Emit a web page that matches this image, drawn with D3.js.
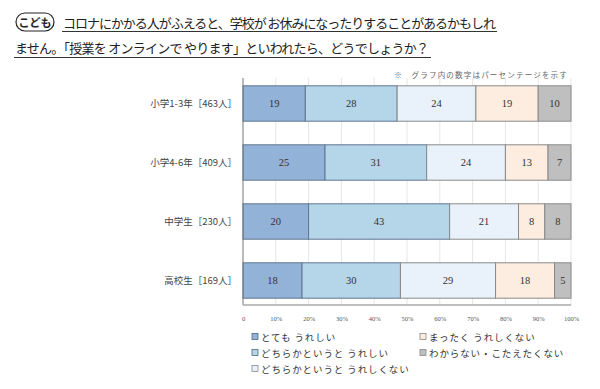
<!DOCTYPE html>
<html>
<head>
<meta charset="utf-8">
<script src="https://cdn.jsdelivr.net/npm/d3@7"></script>
<style>
  body { margin: 0; background: #fff; }
  svg { display: block; font-family: "Noto Sans CJK JP", sans-serif; }
</style>
</head>
<body>
<div id="chart"></div>
<script>
// categories and answers
var groups = ["小学1-3年［463人］", "小学4-6年［409人］", "中学生［230人］", "高校生［169人］"];
var answers = ["とても うれしい", "どちらかというと うれしい", "どちらかというと うれしくない", "まったく うれしくない", "わからない・こたえたくない"];
// percent values per answer (same order as groups)
var veryHappy = [19, 25, 20, 18];
var ratherHappy = [28, 31, 43, 30];
var ratherUnhappy = [24, 24, 21, 29];
var notHappy = [19, 13, 8, 18];
var dontKnow = [10, 7, 8, 5];
var ticks = [0, 10, 20, 30, 40, 50, 60, 70, 80, 90, 100];

var colors = ["#93b2d7", "#b5d5e8", "#e9f2fa", "#fdede1", "#bfbfbf"];

var W = 600, H = 389;
var svg = d3.select("#chart").append("svg")
    .attr("width", W)
    .attr("height", H);

//----------------------------title-------------------------------
svg.append("rect")
    .attr("x", 16).attr("y", 13)
    .attr("width", 38).attr("height", 18)
    .attr("rx", 9)
    .attr("fill", "#fff")
    .attr("stroke", "#222")
    .attr("stroke-width", 1.2);
svg.append("text")
    .attr("x", 35).attr("y", 26.5)
    .attr("text-anchor", "middle")
    .attr("font-size", 11).attr("font-weight", "bold")
    .attr("fill", "#222")
    .text("こども");

var line1 = "コロナにかかる人がふえると、学校が お休みになったりすることがあるかもしれ";
var line2 = "ません。「授業を オンラインで やります」といわれたら、どうでしょうか？";
svg.append("text")
    .attr("x", 63).attr("y", 27.5)
    .attr("font-size", 13).attr("fill", "#222")
    .attr("textLength", 433).attr("lengthAdjust", "spacing")
    .text(line1);
svg.append("line")
    .attr("x1", 62).attr("x2", 497).attr("y1", 31.5).attr("y2", 31.5)
    .attr("stroke", "#333").attr("stroke-width", 1);
svg.append("text")
    .attr("x", 15).attr("y", 53)
    .attr("font-size", 13).attr("fill", "#222")
    .attr("textLength", 414).attr("lengthAdjust", "spacing")
    .text(line2);
svg.append("line")
    .attr("x1", 14).attr("x2", 431).attr("y1", 57.5).attr("y2", 57.5)
    .attr("stroke", "#333").attr("stroke-width", 1);

svg.append("text")
    .attr("x", 568).attr("y", 78)
    .attr("text-anchor", "end")
    .attr("font-size", 7.5).attr("fill", "#666")
    .attr("letter-spacing", 1.2)
    .text("※　グラフ内の数字はパーセンテージを示す");

//----------------------------scales-------------------------------
var xScale = d3.scaleLinear().domain([0, 100]).range([243, 571]);
var yScale = d3.scaleBand().domain(groups).range([74, 310])
    .paddingInner(0.4).paddingOuter(0.2);

var series = [veryHappy, ratherHappy, ratherUnhappy, notHappy, dontKnow];
var rows = groups.map(function (g, i) {
    var start = 0;
    return series.map(function (s, k) {
        var seg = { group: g, k: k, x0: start, x1: start + s[i], v: s[i] };
        start += s[i];
        return seg;
    });
});

// grid lines
svg.append("g")
    .selectAll("line")
    .data(ticks.slice(1))
    .enter().append("line")
    .attr("x1", function (d) { return xScale(d); })
    .attr("x2", function (d) { return xScale(d); })
    .attr("y1", 78).attr("y2", 305)
    .attr("stroke", "#e6e6e6").attr("stroke-width", 1);

// bars
var gRows = svg.append("g").selectAll("g")
    .data(rows).enter().append("g");

gRows.selectAll("rect")
    .data(function (d) { return d; })
    .enter().append("rect")
    .attr("x", function (d) { return xScale(d.x0); })
    .attr("y", function (d) { return yScale(d.group); })
    .attr("width", function (d) { return xScale(d.x1) - xScale(d.x0); })
    .attr("height", yScale.bandwidth())
    .attr("fill", function (d) { return colors[d.k]; })
    .attr("stroke", function (d) { return d.k < 2 ? "#5f7790" : "#8a8a8a"; })
    .attr("stroke-width", 1);

gRows.selectAll("text")
    .data(function (d) { return d; })
    .enter().append("text")
    .attr("x", function (d) { return (xScale(d.x0) + xScale(d.x1)) / 2; })
    .attr("y", function (d) { return yScale(d.group) + yScale.bandwidth() / 2 + 3.5; })
    .attr("text-anchor", "middle")
    .attr("font-family", "'Liberation Serif', serif")
    .attr("font-size", 10.5)
    .attr("fill", "#333")
    .text(function (d) { return d.v; });

// category labels
svg.append("g").selectAll("text")
    .data(groups).enter().append("text")
    .attr("x", 237)
    .attr("y", function (d) { return yScale(d) + yScale.bandwidth() / 2 + 3.5; })
    .attr("text-anchor", "end")
    .attr("font-size", 9.5)
    .attr("fill", "#444")
    .text(function (d) { return d; });

// axes lines
svg.append("line")
    .attr("x1", 243).attr("x2", 243).attr("y1", 78).attr("y2", 305)
    .attr("stroke", "#777").attr("stroke-width", 1);
svg.append("line")
    .attr("x1", 243).attr("x2", 571).attr("y1", 305).attr("y2", 305)
    .attr("stroke", "#aaa").attr("stroke-width", 1.5);

// x tick labels
var xAxis = d3.axisBottom(xScale)
    .tickValues(ticks)
    .tickSize(0)
    .tickFormat(function (d) { return d === 0 ? "0" : d + "%"; });
var ax = svg.append("g")
    .attr("transform", "translate(0,313)")
    .call(xAxis);
ax.select(".domain").remove();
ax.selectAll("text")
    .attr("font-family", "'Liberation Serif', serif")
    .attr("font-size", 6.5)
    .attr("fill", "#555");

//----------------------------legend-------------------------------
var legendPos = [[252, 337], [252, 353], [252, 369], [420, 337], [420, 353]];
var lg = svg.append("g").selectAll("g")
    .data(answers).enter().append("g")
    .attr("transform", function (d, i) {
        return "translate(" + legendPos[i][0] + "," + legendPos[i][1] + ")";
    });
lg.append("rect")
    .attr("x", 0).attr("y", -3.5)
    .attr("width", 6).attr("height", 6)
    .attr("fill", function (d, i) { return colors[i]; })
    .attr("stroke", function (d, i) { return i < 2 ? "#4f6780" : "#888"; })
    .attr("stroke-width", 0.8);
lg.append("text")
    .attr("x", 9).attr("y", 3.5)
    .attr("font-size", 9.5)
    .attr("letter-spacing", 0.9)
    .attr("fill", "#333")
    .text(function (d) { return d; });
</script>
</body>
</html>
